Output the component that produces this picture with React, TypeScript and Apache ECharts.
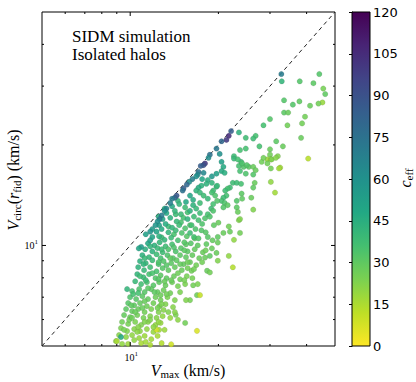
import React, { useEffect, useRef } from 'react';
import * as echarts from 'echarts';

// axis range (km/s), log-log
const axisMin = 5;
const axisMax = 50;
const majorTicks = [10];
const minorTicks = [6, 7, 8, 9, 20, 30, 40];
const identityLine = [5, 50];

// colour scale (c_eff)
const cMin = 0;
const cMax = 120;
const cStep = 15;
const viridisReversed = ['#fde725', '#bddf26', '#7ad151', '#44bf70', '#22a884', '#21918c', '#2a788e', '#355f8d', '#414487', '#482475', '#440154'];

// [Vmax, Vcirc(r_fid), c_eff]
const coreUpperHalos = [
  [13.9, 13.1, 47], [14.7, 13.3, 42], [15.4, 13.0, 38], [13.3, 12.5, 48], [14.2, 12.7, 42], [14.9, 12.4, 39],
  [12.9, 12.0, 50], [13.7, 12.1, 44], [14.4, 11.8, 40], [15.2, 12.1, 36], [12.55, 11.5, 52], [13.2, 11.6, 46],
  [13.9, 11.3, 42], [14.7, 11.5, 38], [15.4, 11.25, 34], [12.3, 11.0, 50], [12.8, 11.2, 47], [13.5, 10.95, 42],
  [14.3, 11.1, 39], [15.0, 10.9, 34], [15.6, 10.65, 32], [11.9, 10.6, 50], [12.55, 10.65, 44], [13.1, 10.4, 41],
  [13.8, 10.55, 39], [14.55, 10.36, 36], [15.3, 10.22, 32], [11.7, 10.36, 52],
];

const coreMiddleHalos = [
  [11.5, 10.15, 48], [12.1, 10.0, 43], [12.6, 10.22, 41], [13.2, 9.94, 38], [13.9, 10.08, 36], [16.1, 10.15, 32], [17.0, 10.0, 30],
  [11.25, 9.74, 45], [11.9, 9.6, 43], [12.4, 9.81, 40], [12.9, 9.54, 38], [13.5, 9.74, 34], [14.3, 9.6, 34], [14.9, 9.81, 32],
  [15.7, 9.6, 31], [16.6, 9.74, 29], [17.7, 9.54, 28],
  [11.0, 9.35, 44], [11.6, 9.22, 41], [12.3, 9.41, 38], [12.7, 9.16, 36], [13.4, 9.35, 34], [14.0, 9.16, 32], [14.8, 9.35, 31],
  [15.5, 9.22, 30], [16.3, 9.35, 29], [17.2, 9.16, 28],
  [10.8, 8.97, 44], [11.3, 8.85, 41], [11.9, 9.03, 39], [12.5, 8.79, 35], [13.0, 8.97, 33], [13.8, 8.85, 31], [14.4, 9.03, 30],
  [15.2, 8.79, 29], [16.0, 8.91, 28], [16.8, 8.73, 26],
  [10.65, 8.61, 43], [11.15, 8.43, 40], [11.7, 8.61, 38], [12.3, 8.37, 35], [12.9, 8.55, 32], [13.5, 8.43, 30], [14.2, 8.61, 29],
  [15.0, 8.43, 28], [15.7, 8.55, 26],
  [10.57, 8.2, 42], [11.1, 8.03, 39], [11.6, 8.2, 36], [12.2, 7.98, 33], [12.7, 8.14, 31], [13.3, 7.98, 30], [14.1, 8.09, 28],
  [14.8, 7.92, 27], [15.6, 8.09, 25],
  [10.4, 7.81, 40], [10.9, 7.66, 37], [11.4, 7.76, 35], [12.0, 7.6, 32], [12.55, 7.76, 30], [13.2, 7.6, 28], [13.9, 7.76, 27],
  [14.55, 7.55, 25], [15.4, 7.66, 24],
  [9.76, 7.4, 42], [10.15, 7.3, 36], [10.73, 7.4, 34], [11.2, 7.25, 32], [11.8, 7.4, 30], [12.4, 7.25, 29], [13.0, 7.35, 27],
  [13.7, 7.2, 26],
  [9.99, 7.0, 34], [10.48, 6.91, 32], [11.0, 7.05, 31], [11.5, 6.91, 29], [12.2, 7.0, 27], [12.7, 6.86, 26], [13.4, 7.0, 24],
  [14.2, 6.86, 23], [16.0, 6.86, 25], [16.9, 7.1, 27], [16.4, 7.6, 26], [16.2, 8.4, 26],
];

const coreFillHalos = [
  [11.2, 9.16, 40], [12.5, 8.91, 34], [13.7, 9.16, 30], [15.7, 8.91, 27], [17.6, 8.91, 26], [18.1, 9.67, 27],
  [10.8, 8.09, 38], [11.9, 8.26, 35], [13.1, 7.81, 28], [14.55, 8.26, 27], [16.3, 7.98, 25], [17.0, 7.66, 24],
  [10.24, 7.15, 36], [11.5, 7.45, 31], [12.7, 7.1, 27], [14.8, 7.25, 24], [15.5, 6.86, 23],
  [10.07, 6.62, 30], [11.2, 6.81, 28], [12.4, 6.5, 25], [13.5, 6.32, 23], [14.55, 5.99, 21],
  [10.4, 6.32, 28], [9.92, 5.99, 26], [11.2, 5.9, 23], [12.0, 5.7, 21], [10.57, 5.51, 21], [9.53, 5.59, 25], [13.1, 5.59, 18],
  [12.8, 10.58, 38], [14.1, 10.8, 35], [13.5, 11.4, 39], [14.9, 11.73, 35], [14.3, 12.4, 39], [15.7, 12.57, 36],
  [16.0, 11.5, 34], [15.5, 10.08, 31], [16.6, 10.5, 30], [12.5, 12.2, 46], [13.1, 12.9, 45], [14.55, 13.6, 42],
  [17.3, 13.4, 38], [18.0, 12.06, 34], [18.1, 10.95, 32], [19.3, 11.5, 30], [19.1, 10.36, 29],
  [11.7, 9.94, 42], [12.8, 9.74, 38], [14.1, 9.87, 34], [15.3, 9.67, 31], [11.1, 8.79, 42], [13.3, 8.73, 32],
  [14.8, 8.79, 29], [16.5, 8.49, 26], [11.3, 7.87, 38], [12.5, 7.92, 32], [13.8, 7.87, 28], [15.3, 7.87, 25],
  [10.65, 7.2, 36], [12.1, 7.25, 30], [13.3, 7.15, 26], [11.0, 6.5, 28], [12.8, 6.67, 24], [14.2, 6.32, 22],
  [10.15, 6.07, 27], [11.7, 5.99, 23], [10.65, 5.7, 22], [12.5, 5.9, 20], [10.32, 5.21, 20], [11.3, 5.14, 17], [9.38, 5.07, 20],
];

const coreLowerHalos = [
  [9.84, 6.72, 32], [10.32, 6.62, 30], [10.8, 6.72, 29], [11.4, 6.58, 27], [12.0, 6.72, 26], [12.6, 6.58, 25], [13.2, 6.67, 23], [14.0, 6.54, 22],
  [9.68, 6.45, 31], [10.15, 6.36, 29], [10.65, 6.45, 28], [11.2, 6.32, 26], [11.8, 6.45, 24], [12.5, 6.32, 23], [13.0, 6.41, 22], [14.3, 6.2, 24],
  [9.53, 6.19, 29], [9.99, 6.10, 28], [10.57, 6.19, 26], [11.1, 6.07, 25], [11.7, 6.14, 23], [12.3, 6.07, 22], [12.9, 6.14, 20], [13.7, 6.07, 19],
  [9.38, 5.9, 26], [9.84, 5.82, 25], [10.4, 5.9, 24], [10.9, 5.78, 23], [11.5, 5.9, 22], [12.2, 5.78, 20], [12.7, 5.86, 19],
  [9.30, 5.66, 24], [9.76, 5.54, 23], [10.32, 5.62, 22], [10.8, 5.54, 21], [11.4, 5.62, 20], [12.0, 5.51, 19], [12.55, 5.59, 17],
  [9.16, 5.39, 22], [9.68, 5.32, 21], [10.15, 5.39, 20], [10.73, 5.28, 19], [11.2, 5.36, 18], [11.8, 5.24, 17], [12.4, 5.36, 16],
  [8.94, 5.17, 20], [9.84, 5.07, 18], [10.9, 5.1, 16], [11.7, 5.04, 15], [12.8, 5.1, 14],
  [9.30, 5.32, 48], [9.01, 5.17, 16], [12.3, 5.59, 9], [16.9, 5.55, 7], [13.8, 5.06, 9], [15.4, 5.86, 26],
];

const upperHalos = [
  [32.9, 31.0, 42], [37.9, 31.0, 33], [42.2, 30.6, 31], [44.2, 32.6, 33], [45.6, 29.5, 25], [46.3, 28.4, 30], [45.3, 26.8, 19],
  [43.9, 26.6, 26], [41.1, 26.2, 28], [37.8, 27.0, 30], [35.9, 26.4, 33], [33.5, 27.2, 33], [33.5, 25.0, 31], [34.6, 25.0, 28],
  [39.5, 24.3, 26], [38.6, 23.2, 26], [34.4, 22.9, 26], [30.0, 23.9, 33], [28.5, 22.9, 36], [38.3, 21.0, 28], [33.2, 19.8, 28],
  [31.5, 20.5, 31], [27.6, 19.8, 36], [26.8, 21.3, 36], [26.3, 20.9, 38], [24.8, 21.0, 38], [23.5, 21.8, 43],
  [22.6, 18.5, 38], [23.7, 19.3, 36], [24.8, 19.5, 36], [30.0, 19.4, 28], [30.0, 18.7, 26], [29.4, 18.1, 19], [30.2, 18.1, 17],
  [31.9, 18.5, 23], [40.5, 18.2, 13], [32.5, 17.1, 17],
  [23.9, 17.8, 38], [23.5, 17.3, 36], [24.4, 17.2, 33], [25.4, 17.2, 31], [26.3, 17.2, 28], [26.8, 16.8, 28], [28.1, 17.8, 26],
  [26.3, 16.3, 33], [30.2, 15.5, 20], [31.2, 14.4, 17], [22.6, 18.2, 40],
  [20.5, 17.8, 52], [20.8, 17.2, 47], [20.5, 16.7, 47], [21.0, 16.5, 45], [19.7, 16.4, 52], [19.0, 16.1, 57], [17.6, 15.8, 50],
  [18.4, 15.7, 45], [19.0, 15.4, 42], [19.7, 15.0, 40],
  [23.3, 18.1, 36], [24.1, 17.6, 34], [25.0, 17.4, 33], [24.8, 16.4, 34], [23.7, 16.7, 36], [28.5, 18.3, 26], [29.4, 17.6, 26],
  [30.4, 18.1, 24], [31.4, 18.3, 22], [32.2, 17.0, 17], [30.2, 17.0, 26],
  [26.6, 15.4, 28], [26.3, 14.9, 30], [25.9, 13.9, 28], [24.0, 14.3, 31], [24.1, 13.8, 30], [23.1, 13.6, 33], [23.1, 13.0, 31],
  [23.3, 12.6, 28], [26.3, 12.8, 23], [23.5, 11.9, 23], [21.9, 11.0, 28], [20.8, 10.9, 28],
  [22.4, 15.4, 38], [21.9, 14.9, 38], [21.5, 14.8, 36], [21.1, 14.6, 38], [21.3, 14.1, 36], [20.8, 13.9, 38], [20.5, 13.6, 36],
  [21.0, 13.4, 34], [21.5, 13.2, 31], [20.8, 13.0, 33],
  [19.8, 15.1, 40], [19.2, 14.6, 38], [19.0, 14.4, 36], [19.5, 14.1, 34], [19.8, 13.6, 33], [19.2, 13.3, 36], [18.9, 12.9, 38],
  [19.2, 12.7, 34], [18.4, 12.4, 36], [18.7, 12.2, 34],
  [18.2, 15.3, 43], [17.5, 15.1, 43], [17.1, 14.9, 46], [16.8, 14.6, 43], [17.3, 14.4, 40], [17.8, 14.1, 38], [18.4, 13.8, 40],
  [16.4, 13.2, 43], [16.8, 12.9, 40], [16.0, 12.7, 43], [17.3, 12.5, 38], [16.5, 12.2, 38], [15.7, 12.0, 43], [17.1, 11.9, 36],
  [17.6, 11.6, 34], [16.2, 11.5, 36], [16.7, 11.2, 34], [17.5, 11.1, 33], [16.0, 10.9, 38], [16.5, 10.6, 36], [17.1, 10.5, 33],
  [19.9, 10.6, 30], [18.4, 10.6, 32], [18.2, 10.1, 30], [19.0, 9.8, 28], [19.7, 9.5, 28], [21.7, 9.3, 20], [22.4, 8.6, 14],
  [23.7, 12.0, 23], [23.7, 10.9, 26], [22.6, 10.4, 20], [21.7, 11.4, 26], [20.0, 11.7, 28], [19.9, 10.2, 28], [19.9, 9.0, 23],
  [18.3, 8.4, 28], [18.7, 8.3, 26], [18.0, 9.2, 28], [18.7, 9.3, 30], [17.3, 7.1, 11],
  [16.0, 14.1, 50], [15.5, 13.5, 48], [16.4, 13.7, 46], [23.1, 15.4, 38], [23.9, 15.3, 36],
];

const diagonalHalos = [
  [32.8, 32.6, 70],
  [22.1, 22.0, 85], [21.7, 21.3, 105], [21.3, 20.7, 100], [20.5, 20.5, 80], [19.7, 19.5, 72], [20.2, 18.8, 60], [18.7, 18.7, 75],
  [18.5, 18.3, 62], [18.0, 17.6, 100], [17.8, 17.4, 90], [17.4, 17.3, 85], [17.8, 16.5, 65], [17.1, 16.6, 75], [17.0, 16.3, 65],
  [16.8, 16.1, 60], [16.3, 15.8, 68], [15.9, 15.5, 62], [15.6, 15.2, 80], [15.2, 14.8, 85], [15.1, 14.6, 75], [14.4, 14.1, 88],
  [14.2, 13.9, 82], [13.9, 13.8, 70], [13.7, 13.4, 68], [13.3, 12.9, 65], [13.1, 12.7, 60], [12.8, 12.3, 70], [12.6, 12.0, 72],
  [12.4, 11.8, 60], [12.2, 11.5, 58], [11.9, 11.2, 55], [11.7, 11.0, 58], [11.3, 10.8, 52], [10.9, 9.9, 55], [10.7, 9.8, 50],
];

const serif = 'Liberation Serif';

export default function App() {
  const ref = useRef<HTMLDivElement>(null);
  useEffect(() => {
    document.body.style.margin = '0';
    if (!ref.current) return;
    const chart = echarts.init(ref.current, undefined, { renderer: 'svg' });
    const halos = [...coreLowerHalos, ...coreMiddleHalos, ...coreFillHalos, ...coreUpperHalos, ...upperHalos, ...diagonalHalos];
    const tickData = [...majorTicks.map((v) => [v, v, 1]), ...minorTicks.map((v) => [v, v, 0])];
    const line = (x1: number, y1: number, x2: number, y2: number) => ({
      type: 'line', shape: { x1, y1, x2, y2 }, style: { stroke: '#000', lineWidth: 1 },
    });
    const stops = viridisReversed.map((color, i) => ({ offset: i / (viridisReversed.length - 1), color }));
    const powRich = {
      b: { fontFamily: serif, fontSize: 10, fill: '#000' },
      e: { fontFamily: serif, fontSize: 7, padding: [0, 0, 6, 0], fill: '#000' },
    };
    const titleRich = {
      i: { fontFamily: serif, fontStyle: 'italic', fontSize: 16 },
      s: { fontFamily: serif, fontSize: 11, padding: [7, 0, 0, 0] },
      n: { fontFamily: serif, fontSize: 16 },
    };
    const noteRich = { a: { fontFamily: serif, fontSize: 17, fill: '#000' } };

    chart.setOption({
      animation: false,
      grid: [
        { left: 42, top: 12, width: 293, height: 334, show: true, borderColor: '#000', borderWidth: 1, backgroundColor: 'transparent' },
        { left: 352, top: 12, width: 18, height: 334, show: false },
      ],
      xAxis: [
        { type: 'log', logBase: 10, min: axisMin, max: axisMax, gridIndex: 0, axisLine: { show: false }, axisTick: { show: false }, axisLabel: { show: false }, splitLine: { show: false } },
        { type: 'value', min: 0, max: 1, gridIndex: 1, show: false },
      ],
      yAxis: [
        { type: 'log', logBase: 10, min: axisMin, max: axisMax, gridIndex: 0, axisLine: { show: false }, axisTick: { show: false }, axisLabel: { show: false }, splitLine: { show: false } },
        {
          type: 'value', min: cMin, max: cMax, interval: cStep, gridIndex: 1, position: 'right',
          axisLine: { show: true, lineStyle: { color: '#000', width: 1 } },
          axisTick: { show: true, inside: true, length: 3, lineStyle: { color: '#000' } },
          axisLabel: { color: '#000', fontFamily: 'DejaVu Sans', fontSize: 13, margin: 3 },
          splitLine: { show: false },
        },
      ],
      visualMap: {
        type: 'continuous', show: false, min: cMin, max: cMax, dimension: 2, seriesIndex: 0,
        inRange: { color: viridisReversed },
      },
      series: [
        {
          type: 'scatter', xAxisIndex: 0, yAxisIndex: 0, data: halos, symbolSize: 5.5, z: 3,
          itemStyle: { opacity: 0.88, borderColor: 'rgba(30,30,30,0.22)', borderWidth: 0.5 },
        },
        {
          type: 'line', xAxisIndex: 0, yAxisIndex: 0, data: identityLine.map((v) => [v, v]), symbol: 'none', z: 2,
          lineStyle: { color: '#222', width: 1, type: [4, 3.5] },
        },
        {
          type: 'custom', xAxisIndex: 0, yAxisIndex: 0, data: tickData, z: 4, clip: false,
          renderItem: (params: any, api: any) => {
            const v = api.value(0);
            const major = api.value(2) === 1;
            const len = major ? 4 : 2;
            const b = api.coord([v, axisMin]);
            const t = api.coord([v, axisMax]);
            const children: any[] = [line(b[0], b[1], b[0], b[1] - len), line(t[0], t[1], t[0], t[1] + len)];
            if (major) {
              children.push({ type: 'text', style: { text: '{b|10}{e|1}', rich: powRich, x: b[0] + 1, y: b[1] + 11, align: 'center', verticalAlign: 'middle', fill: '#000' } });
            }
            return { type: 'group', children };
          },
        },
        {
          type: 'custom', xAxisIndex: 0, yAxisIndex: 0, data: tickData, z: 4, clip: false,
          renderItem: (params: any, api: any) => {
            const v = api.value(1);
            const major = api.value(2) === 1;
            const len = major ? 4 : 2;
            const l = api.coord([axisMin, v]);
            const r = api.coord([axisMax, v]);
            const children: any[] = [line(l[0], l[1], l[0] + len, l[1]), line(r[0], r[1], r[0] - len, r[1])];
            if (major) {
              children.push({ type: 'text', style: { text: '{b|10}{e|1}', rich: powRich, x: l[0] - 4, y: l[1], align: 'right', verticalAlign: 'middle', fill: '#000' } });
            }
            return { type: 'group', children };
          },
        },
        {
          type: 'custom', xAxisIndex: 1, yAxisIndex: 1, data: [[0, cMin]], z: 1,
          renderItem: (params: any, api: any) => {
            const p0 = api.coord([0, cMax]);
            const p1 = api.coord([1, cMin]);
            return {
              type: 'rect',
              shape: { x: p0[0], y: p0[1], width: p1[0] - p0[0], height: p1[1] - p0[1] },
              style: { fill: new echarts.graphic.LinearGradient(0, 1, 0, 0, stops), stroke: '#000', lineWidth: 1 },
            };
          },
        },
      ],
      graphic: [
        { type: 'text', x: 72, y: 36, style: { text: '{a|SIDM simulation}', rich: noteRich, fill: '#000', verticalAlign: 'middle' } },
        { type: 'text', x: 72, y: 54, style: { text: '{a|Isolated halos}', rich: noteRich, fill: '#000', verticalAlign: 'middle' } },
        {
          type: 'text', x: 188, y: 370,
          style: { text: '{i|V}{s|max}{n| (km/s)}', align: 'center', verticalAlign: 'middle', fill: '#000', rich: titleRich },
        },
        {
          type: 'text', x: 13, y: 180, rotation: Math.PI / 2,
          style: { text: '{i|V}{s|circ}{n|(}{i|r}{s|fid}{n|) (km/s)}', align: 'center', verticalAlign: 'middle', fill: '#000', rich: titleRich },
        },
        {
          type: 'text', x: 405, y: 178, rotation: Math.PI / 2,
          style: { text: '{i|c}{s|eff}', align: 'center', verticalAlign: 'middle', fill: '#000', rich: titleRich },
        },
      ],
    });
    return () => chart.dispose();
  }, []);
  return <div ref={ref} style={{ width: 416, height: 382 }} />;
}
